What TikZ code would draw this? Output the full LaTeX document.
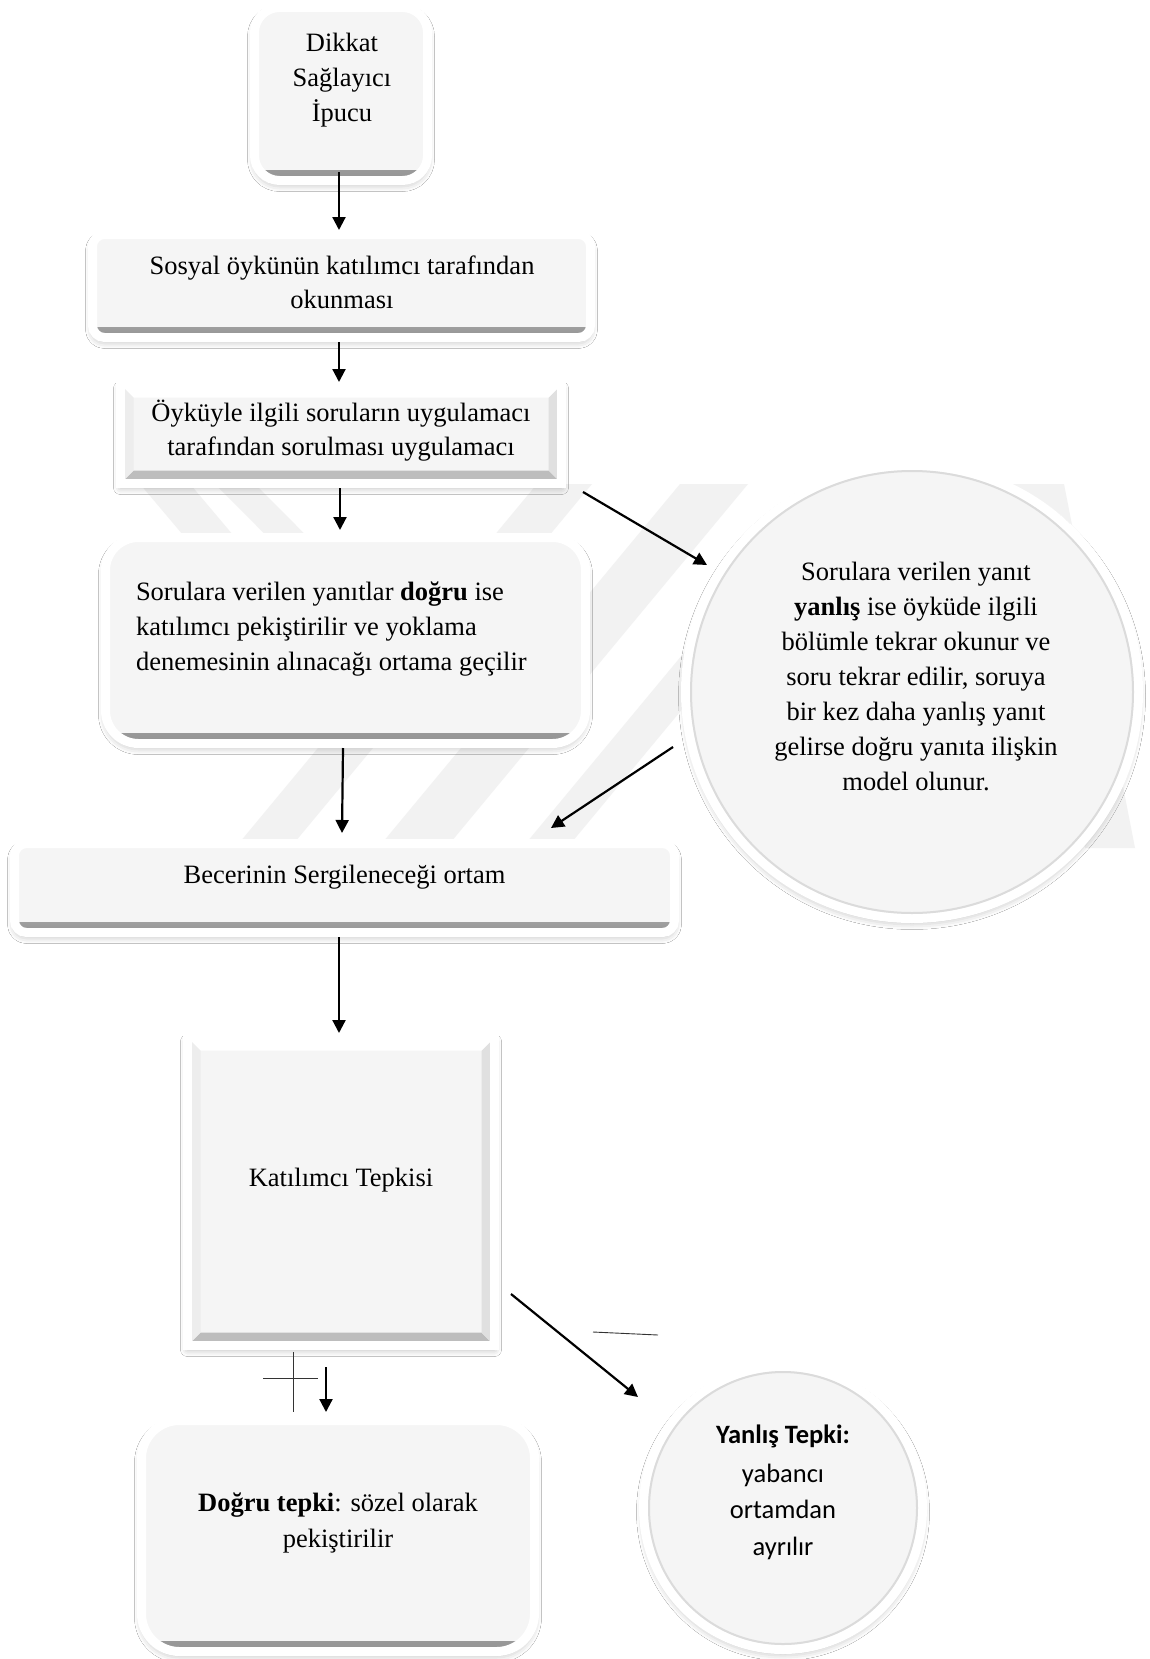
\documentclass[tikz,border=0pt]{standalone}
\usepackage{fontspec}
\setmainfont{Liberation Serif}
\newfontfamily\calfont{Carlito}
\usetikzlibrary{arrows.meta,shapes.geometric,shadows.blur}
\definecolor{face}{HTML}{F5F5F5}
\definecolor{wmark}{HTML}{F2F2F2}
\begin{document}
\begin{tikzpicture}[x=1pt,y=1pt,
  arr/.style={line width=2.2pt, black, -{Triangle[length=13pt,width=13pt]}},
  thinline/.style={line width=0.9pt, black!80},
  softshadow/.style={blur shadow={shadow xshift=0pt, shadow yshift=-4pt, shadow blur radius=7pt, shadow opacity=30}},
  rbox/.style={draw=white, line width=9pt, fill=face, inner sep=0pt, outer sep=0pt, softshadow,
     path picture={\shade[sharp corners, top color=face, bottom color=black!42]
        ([yshift=10.5pt]path picture bounding box.south west) rectangle (path picture bounding box.south east);}},
  bevbox/.style={draw=white, line width=9pt, fill=face, inner sep=0pt, outer sep=0pt, softshadow,
     path picture={
       \path (path picture bounding box.south west) coordinate (pA)
             (path picture bounding box.north east) coordinate (pB);
       \fill[sharp corners, black!26] (pA) -- (pA -| pB) -- ([shift={(-13,13)}]pA -| pB) -- ([shift={(13,13)}]pA) -- cycle;
       \fill[sharp corners, black!12] (pA -| pB) -- (pB) -- ([shift={(-13,-13)}]pB) -- ([shift={(-13,13)}]pA -| pB) -- cycle;
       \fill[sharp corners, white] (pB) -- (pB -| pA) -- ([shift={(13,-13)}]pB -| pA) -- ([shift={(-13,-13)}]pB) -- cycle;
       \fill[sharp corners, black!7] (pB -| pA) -- (pA) -- ([shift={(13,13)}]pA) -- ([shift={(13,-13)}]pB -| pA) -- cycle;
     }},
  rround/.style={draw=white, line width=9pt, fill=face, inner sep=0pt, outer sep=0pt, softshadow},
  txt/.style={inner sep=0pt, outer sep=0pt, anchor=base, font=\fontsize{26.5}{35.5}\selectfont},
  txtl/.style={txt, anchor=base west},
  stxt/.style={inner sep=0pt, outer sep=0pt, anchor=base, font=\calfont\fontsize{26.5}{35.5}\selectfont}
]
\fill[white] (0,0) rectangle (1150,-1659);
\useasboundingbox (0,0) rectangle (1150,-1659);

% faint watermark
\begin{scope}
\clip (0,-484) rectangle (1150,-848);
\fill[wmark] (235,-848) -- (290,-848) -- (592,-484) -- (537,-484) -- cycle;
\fill[wmark] (378,-848) -- (446,-848) -- (748,-484) -- (680,-484) -- cycle;
\fill[wmark] (522,-848) -- (567,-848) -- (869,-484) -- (824,-484) -- cycle;
\fill[wmark] (140,-484) -- (190,-484) -- (330,-650) -- (280,-650) -- cycle;
\fill[wmark] (215,-484) -- (255,-484) -- (420,-650) -- (380,-650) -- cycle;
\fill[wmark] (1010,-484) -- (1064,-484) -- (1135,-848) -- (1085,-848) -- cycle;
\end{scope}

% boxes
\node[rbox, rounded corners=25pt, minimum width=173pt, minimum height=173pt] (b1) at (341,-94) {};
\node[rbox, rounded corners=12pt, minimum width=498pt, minimum height=103pt] (b2) at (341.5,-286) {};
\node[bevbox, minimum width=441pt, minimum height=99pt] (b3) at (341,-434) {};
\node[rbox, rounded corners=33pt, minimum width=480pt, minimum height=206pt] (b4) at (345.5,-640.5) {};
\node[rbox, rounded corners=12pt, minimum width=660pt, minimum height=89pt] (b5) at (344.5,-888) {};
\node[bevbox, minimum width=307pt, minimum height=308pt] (b6) at (341,-1191.5) {};
\node[rbox, rounded corners=38pt, minimum width=393pt, minimum height=231pt] (b7) at (338,-1536) {};
\node[rround, circle, minimum size=453pt] (c1) at (912,-692) {};
\draw[black!14, line width=2pt] (c1.center) circle[radius=221];
\node[rround, ellipse, minimum width=279pt, minimum height=283pt] (e1) at (783,-1508) {};
\draw[black!14, line width=2pt] (e1.center) ellipse[x radius=134, y radius=136];

% connectors
\draw[arr] ([shift={(-2,8.5)}]b1.south) -- ([shift={(-2.5,4.5)}]b2.north);
\draw[arr] ([shift={(-2.5,-4.5)}]b2.south) -- ([shift={(-2,2.5)}]b3.north);
\draw[arr] ([shift={(-1,-4.5)}]b3.south) -- ([shift={(-5.5,7.5)}]b4.north);
\draw[arr] ([shift={(-2.5,-4.5)}]b4.south) -- ([shift={(-2.5,10.5)}]b5.north);
\draw[arr] ([shift={(-5.5,-4.5)}]b5.south) -- ([shift={(-2,4.5)}]b6.north);
\draw[arr] ([shift={(21.5,-8.5)}]b3.south east) -- ([shift={(-205,127)}]c1.center);
\draw[arr] ([shift={(-239,-55)}]c1.center) -- ([shift={(-123.5,15.5)}]b5.north east);
\draw[arr] ([shift={(16.5,51.5)}]b6.south east) -- ([shift={(-145,111)}]e1.center);
\draw[arr] ([shift={(-15,-21.5)}]b6.south) -- ([shift={(-12,8.5)}]b7.north);
\draw[thinline] ([shift={(-48,-6.5)}]b6.south) -- ([shift={(-45,8.5)}]b7.north);
\coordinate (h1) at (263,-1378);
\coordinate (h2) at (318,-1378);
\draw[thinline] (h1) -- (h2);
\coordinate (s1) at (593,-1332);
\coordinate (s2) at (658,-1335);
\draw[thinline] (s1) -- (s2);

% texts
\node[txt] (t1a) at (342,-52) {Dikkat};
\node[txt] (t1b) at (342,-87) {Sağlayıcı};
\node[txt] (t1c) at (342,-122) {İpucu};
\node[txt] (t2a) at (342,-274) {Sosyal öykünün katılımcı tarafından};
\node[txt] (t2b) at (342,-308) {okunması};
\node[txt] (t3a) at (341,-421) {Öyküyle ilgili soruların uygulamacı};
\node[txt] (t3b) at (341,-455) {tarafından sorulması uygulamacı};
\node[txtl] (t4a) at (136,-600) {Sorulara verilen yanıtlar \textbf{doğru} ise};
\node[txtl] (t4b) at (136,-635) {katılımcı pekiştirilir ve yoklama};
\node[txtl] (t4c) at (136,-670) {denemesinin alınacağı ortama geçilir};
\node[txt] (t5) at (344.5,-883) {Becerinin Sergileneceği ortam};
\node[txt] (t6) at (341,-1186) {Katılımcı Tepkisi};
\node[txt] (t7a) at (338,-1511) {\textbf{Doğru tepki}: sözel olarak};
\node[txt] (t7b) at (338,-1547) {pekiştirilir};
\node[txt] (tca) at (916,-580) {Sorulara verilen yanıt};
\node[txt] (tcb) at (916,-615) {\textbf{yanlış} ise öyküde ilgili};
\node[txt] (tcc) at (916,-650) {bölümle tekrar okunur ve};
\node[txt] (tcd) at (916,-685) {soru tekrar edilir, soruya};
\node[txt] (tce) at (916,-720) {bir kez daha yanlış yanıt};
\node[txt] (tcf) at (916,-755) {gelirse doğru yanıta ilişkin};
\node[txt] (tcg) at (916,-790) {model olunur.};
\node[stxt] (tea) at (783,-1443) {\textbf{Yanlış Tepki:}};
\node[stxt] (teb) at (783,-1482) {yabancı};
\node[stxt] (tec) at (783,-1518) {ortamdan};
\node[stxt] (ted) at (783,-1555) {ayrılır};
\end{tikzpicture}
\end{document}
